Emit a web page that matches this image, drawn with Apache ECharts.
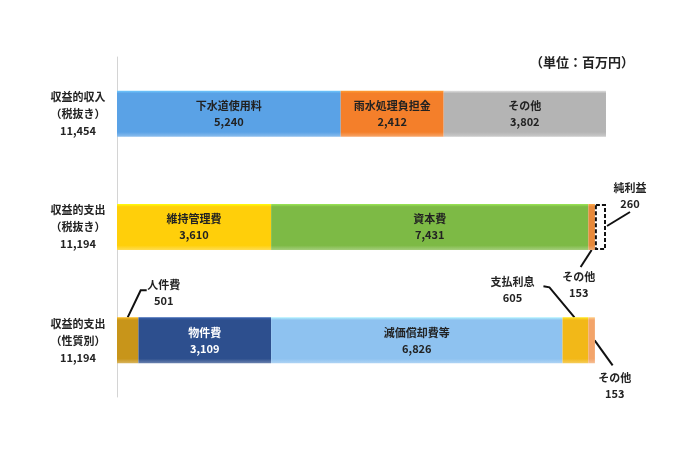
<!DOCTYPE html>
<html>
<head>
<meta charset="utf-8">
<script src="https://cdn.jsdelivr.net/npm/echarts@6/dist/echarts.min.js"></script>
<style>html,body{margin:0;padding:0;background:#fff}#c{width:689px;height:456px}</style>
</head>
<body>
<div id="c"></div>
<script>
// ---- data ----
const rowTitles = ['収益的収入', '収益的支出', '収益的支出'];
const rowSubs = ['（税抜き）', '（税抜き）', '（性質別）'];
const rowTotals = [11454, 11194, 11194];

const row1Names = ['下水道使用料', '雨水処理負担金', 'その他'];
const row1Values = [5240, 2412, 3802];
const row2Names = ['維持管理費', '資本費', 'その他', '純利益'];
const row2Values = [3610, 7431, 153, 260];
const row3Names = ['人件費', '物件費', '減価償却費等', '支払利息', 'その他'];
const row3Values = [501, 3109, 6826, 605, 153];
const unitText = '（単位：百万円）';

// ---- styles ----
const FONT = '"Noto Sans CJK JP", "Noto Sans", sans-serif';
const row1Colors = ['#5AA2E6', '#F47F2A', '#B4B4B4'];
const row2Colors = ['#FFCF0A', '#7DBA45', '#E8893A', 'transparent'];
const row3Colors = ['#C8951A', '#2D4F8E', '#8EC2F0', '#F2B818', '#F3A46A'];
const row1Inside = [true, true, true];
const row2Inside = [true, true, false, false];
const row3Inside = [false, true, true, false, false];
const row3LabelColor = ['#222', '#fff', '#222', '#222', '#222'];

const rows = [
  { names: row1Names, values: row1Values, colors: row1Colors, inside: row1Inside },
  { names: row2Names, values: row2Values, colors: row2Colors, inside: row2Inside },
  { names: row3Names, values: row3Values, colors: row3Colors, inside: row3Inside, labelColors: row3LabelColor }
];

const fmt = v => v.toLocaleString('en-US');
const categories = rowTitles.map((t, i) => t + '|' + rowSubs[i] + '|' + fmt(rowTotals[i]));
const BAR_W = 46;

function bevel(c) {
  return new echarts.graphic.LinearGradient(0, 0, 0, 1, [
    { offset: 0, color: echarts.color.lift(c, -0.25) },
    { offset: 0.06, color: c },
    { offset: 0.9, color: c },
    { offset: 1, color: echarts.color.lift(c, 0.3) }
  ]);
}

const maxSeg = Math.max(...rows.map(r => r.values.length));
const series = [];
for (let k = 0; k < maxSeg; k++) {
  const data = rows.map((r, ri) => {
    if (k >= r.values.length) return { value: '-' };
    const dashed = r.colors[k] === 'transparent';
    return {
      value: r.values[k],
      name: r.names[k],
      itemStyle: dashed ? {
        color: 'rgba(255,255,255,0)', borderColor: '#111', borderWidth: 2, borderType: [4, 2]
      } : { color: bevel(r.colors[k]) },
      label: {
        show: r.inside[k],
        color: (r.labelColors && r.labelColors[k]) || '#222'
      }
    };
  });
  series.push({
    type: 'bar',
    stack: 'total',
    barWidth: BAR_W,
    data: data,
    label: {
      position: 'inside',
      fontFamily: FONT, fontSize: 11, fontWeight: 'bold', lineHeight: 16,
      formatter: p => p.name + '\n' + fmt(p.value)
    },
    emphasis: { disabled: true },
    animation: false
  });
}

const chart = echarts.init(document.getElementById('c'), null, { renderer: 'canvas' });
chart.setOption({
  animation: false,
  title: {
    text: unitText, right: 50, top: 51,
    textStyle: { fontFamily: FONT, fontSize: 13, fontWeight: 'bold', color: '#222' }
  },
  grid: { left: 117, right: 17, top: 57, bottom: 59 },
  xAxis: {
    type: 'value', min: 0, max: 13000,
    axisLine: { show: false }, axisTick: { show: false },
    axisLabel: { show: false }, splitLine: { show: false }
  },
  yAxis: {
    type: 'category', inverse: true, data: categories,
    axisLine: { show: true, lineStyle: { color: '#d4d4d4', width: 1 } },
    axisTick: { show: false },
    axisLabel: {
      align: 'center', margin: 39,
      formatter: v => { const s = v.split('|'); return '{a|' + s[0] + '}\n{a|' + s[1] + '}\n{a|' + s[2] + '}'; },
      rich: { a: { fontFamily: FONT, fontSize: 11, fontWeight: 'bold', color: '#222', lineHeight: 17, align: 'center' } }
    }
  },
  series: series
});

// ---- leader lines & outside labels (anchored through the axes' scales) ----
function cum(row, k) { let s = 0; for (let i = 0; i < k; i++) s += rows[row].values[i]; return s; }
function pt(x, row) { return chart.convertToPixel({ xAxisIndex: 0, yAxisIndex: 0 }, [x, row]); }
const txtStyle = { fontFamily: FONT, fontSize: 11, fontWeight: 'bold', fill: '#222', align: 'center', verticalAlign: 'middle' };
const g = [];
function addLine(points) {
  g.push({ type: 'polyline', shape: { points: points }, style: { stroke: '#111', lineWidth: 2, fill: null }, silent: true });
}
function addLabel(x, y1, name, val) {
  g.push({ type: 'text', x: x, y: y1, style: Object.assign({ text: name }, txtStyle), silent: true });
  g.push({ type: 'text', x: x, y: y1 + 16, style: Object.assign({ text: fmt(val) }, txtStyle), silent: true });
}
const H = BAR_W / 2;
// Row 2: 純利益 (dashed)
{
  const r = 1, k = 3; const e = pt(cum(r, k) + rows[r].values[k], r);
  addLine([[e[0] + 1, e[1] - 1], [e[0] + 24, e[1] - 15]]);
  addLabel(e[0] + 24, e[1] - 39, rows[r].names[k], rows[r].values[k]);
}
// Row 2: その他
{
  const r = 1, k = 2; const m = pt(cum(r, k) + rows[r].values[k] / 2, r); const by = m[1] + H;
  addLine([[m[0], by], [m[0] - 11, by + 17]]);
  addLabel(m[0] - 13, by + 27, rows[r].names[k], rows[r].values[k]);
}
// Row 3: 人件費
{
  const r = 2, k = 0; const m = pt(cum(r, k) + rows[r].values[k] / 2, r); const ty = m[1] - H;
  addLine([[m[0], ty], [m[0] + 13, ty - 27], [m[0] + 19, ty - 27]]);
  addLabel(m[0] + 36, ty - 33, rows[r].names[k], rows[r].values[k]);
}
// Row 3: 支払利息
{
  const r = 2, k = 3; const m = pt(cum(r, k) + rows[r].values[k] / 2, r); const ty = m[1] - H;
  addLine([[m[0] - 1, ty], [m[0] - 26, ty - 30], [m[0] - 32, ty - 31]]);
  addLabel(m[0] - 63, ty - 36, rows[r].names[k], rows[r].values[k]);
}
// Row 3: その他
{
  const r = 2, k = 4; const m = pt(cum(r, k) + rows[r].values[k] / 2, r);
  addLine([[m[0] + 3, m[1]], [m[0] + 21, m[1] + 25]]);
  addLabel(m[0] + 23, m[1] + 37, rows[r].names[k], rows[r].values[k]);
}
chart.setOption({ graphic: g });
</script>
</body>
</html>
